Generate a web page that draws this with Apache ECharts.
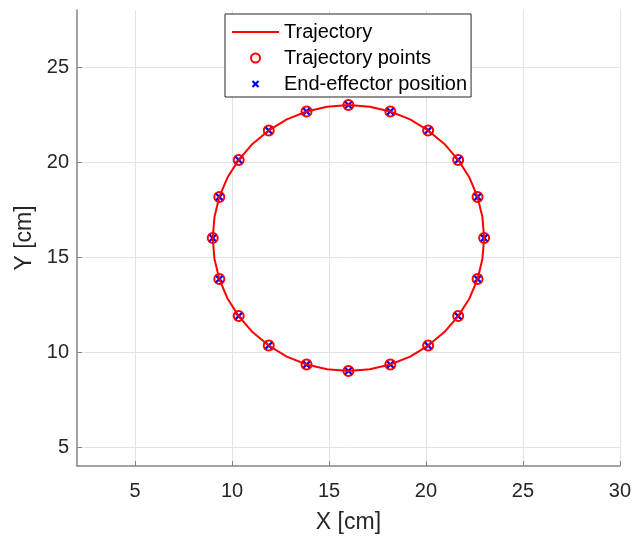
<!DOCTYPE html>
<html>
<head>
<meta charset="utf-8">
<script src="https://cdn.jsdelivr.net/npm/echarts@6/dist/echarts.min.js"></script>
<style>
  html, body { margin: 0; padding: 0; background: #fff; }
  #chart { width: 634px; height: 539px; }
</style>
</head>
<body>
<div id="chart"></div>
<script>
    var lineX = [23.00, 22.91, 22.66, 22.24, 21.66, 20.95, 20.11, 19.18, 18.16, 17.10,
                 16.00, 14.90, 13.84, 12.82, 11.89, 11.05, 10.34, 9.76, 9.34, 9.09,
                 9.00, 9.09, 9.34, 9.76, 10.34, 11.05, 11.89, 12.82, 13.84, 14.90,
                 16.00, 17.10, 18.16, 19.18, 20.11, 20.95, 21.66, 22.24, 22.66, 22.91, 23.00];
    var lineY = [16.00, 17.10, 18.16, 19.18, 20.11, 20.95, 21.66, 22.24, 22.66, 22.91,
                 23.00, 22.91, 22.66, 22.24, 21.66, 20.95, 20.11, 19.18, 18.16, 17.10,
                 16.00, 14.90, 13.84, 12.82, 11.89, 11.05, 10.34, 9.76, 9.34, 9.09,
                 9.00, 9.09, 9.34, 9.76, 10.34, 11.05, 11.89, 12.82, 13.84, 14.90, 16.00];

    // trajectory points
    var pointX = [23.00, 22.66, 21.66, 20.11, 18.16, 16.00, 13.84, 11.89, 10.34, 9.34,
                  9.00, 9.34, 10.34, 11.89, 13.84, 16.00, 18.16, 20.11, 21.66, 22.66];
    var pointY = [16.00, 18.16, 20.11, 21.66, 22.66, 23.00, 22.66, 21.66, 20.11, 18.16,
                  16.00, 13.84, 11.89, 10.34, 9.34, 9.00, 9.34, 10.34, 11.89, 13.84];

    // end-effector positions
    var effX = [23.00, 22.66, 21.66, 20.11, 18.16, 16.00, 13.84, 11.89, 10.34, 9.34,
                9.00, 9.34, 10.34, 11.89, 13.84, 16.00, 18.16, 20.11, 21.66, 22.66];
    var effY = [16.00, 18.16, 20.11, 21.66, 22.66, 23.00, 22.66, 21.66, 20.11, 18.16,
                16.00, 13.84, 11.89, 10.34, 9.34, 9.00, 9.34, 10.34, 11.89, 13.84];

    var xTicks = [5, 10, 15, 20, 25, 30];
    var yTicks = [5, 10, 15, 20, 25];

    var seriesNames = ['Trajectory', 'Trajectory points', 'End-effector position'];

    function pairs(xs, ys) {
        var out = [];
        for (var i = 0; i < xs.length; i++) out.push([xs[i], ys[i]]);
        return out;
    }

    var font = '"Liberation Sans", Arial, Helvetica, sans-serif';
    var textColor = '#262626';
    var axisColor = '#858585';
    var gridColor = '#e3e3e3';
    var crossPath = 'path://M0,2L2,0L5,3L8,0L10,2L7,5L10,8L8,10L5,7L2,10L0,8L3,5Z';
    // same cross, with a little empty margin so the legend draws it smaller
    var crossIcon = 'path://M-1,-1L-1,-1Z M11,11L11,11Z M0,2L2,0L5,3L8,0L10,2L7,5L10,8L8,10L5,7L2,10L0,8L3,5Z';
    var lineIcon = 'path://M0,0L46,0L46,2L0,2Z';

    var chart = echarts.init(document.getElementById('chart'));
    var option = {
        animation: false,
        backgroundColor: '#fff',
        grid: { left: 77, right: 14, top: 10, bottom: 73 },
        legend: {
            left: 225, top: 14,
            orient: 'vertical',
            itemGap: 6,
            itemWidth: 47, itemHeight: 9,
            padding: [8, 4, 3, 7],
            borderColor: '#262626', borderWidth: 1,
            backgroundColor: '#fff',
            textStyle: { fontFamily: font, fontSize: 20, color: '#000', lineHeight: 20 },
            data: [
                { name: seriesNames[0], icon: lineIcon },
                { name: seriesNames[1] },
                { name: seriesNames[2], icon: crossIcon }
            ]
        },
        xAxis: {
            type: 'value', min: 2, max: 30,
            name: 'X [cm]', nameLocation: 'middle', nameGap: 45,
            nameTextStyle: { fontFamily: font, fontSize: 23, color: textColor },
            axisLine: { show: true, lineStyle: { color: axisColor, width: 1.5 } },
            axisTick: { show: true, inside: true, length: 5, customValues: xTicks,
                lineStyle: { color: axisColor } },
            axisLabel: { fontFamily: font, fontSize: 20, color: textColor, margin: 15,
                customValues: xTicks },
            splitLine: { show: true, lineStyle: { color: gridColor, width: 1 } }
        },
        yAxis: {
            type: 'value', min: 4, max: 28,
            name: 'Y [cm]', nameLocation: 'middle', nameGap: 40,
            nameTextStyle: { fontFamily: font, fontSize: 23, color: textColor },
            axisLine: { show: true, lineStyle: { color: axisColor, width: 1.5 } },
            axisTick: { show: true, inside: true, length: 5, customValues: yTicks,
                lineStyle: { color: axisColor } },
            axisLabel: { fontFamily: font, fontSize: 20, color: textColor, margin: 8,
                customValues: yTicks },
            splitLine: { show: true, lineStyle: { color: gridColor, width: 1 } }
        },
        series: [
            {
                name: seriesNames[0], type: 'line',
                data: pairs(lineX, lineY),
                showSymbol: false, symbol: 'none',
                lineStyle: { color: '#ff0000', width: 2 },
                itemStyle: { color: '#ff0000' }
            },
            {
                name: seriesNames[1], type: 'scatter',
                data: pairs(pointX, pointY),
                symbol: 'circle', symbolSize: 10,
                itemStyle: { color: 'rgba(0,0,0,0)', borderColor: '#ff0000', borderWidth: 2, opacity: 1 }
            },
            {
                name: seriesNames[2], type: 'scatter',
                data: pairs(effX, effY),
                symbol: crossPath, symbolSize: 8, symbolKeepAspect: true,
                itemStyle: { color: '#0000ff', opacity: 1 }
            }
        ]
    };
    chart.setOption(option);
</script>
</body>
</html>
